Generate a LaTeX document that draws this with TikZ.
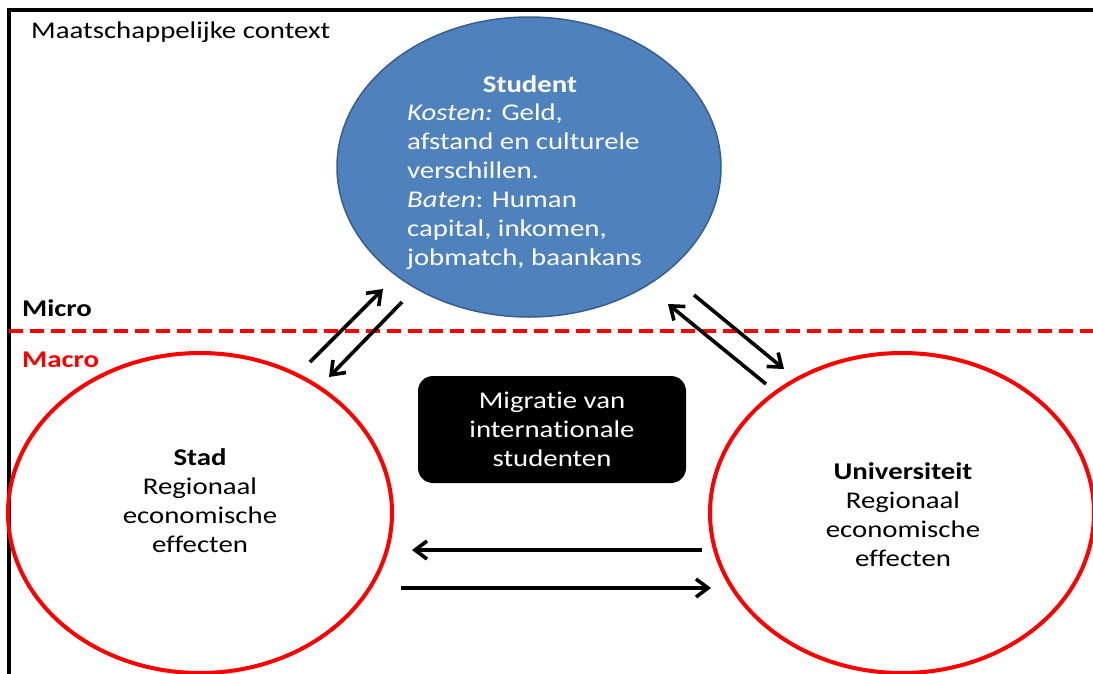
\documentclass[tikz,border=0pt]{standalone}
\usepackage{fontspec}
\setmainfont{Carlito}[FakeStretch=1.2, Ligatures=NoCommon]
\usetikzlibrary{shapes.geometric,arrows.meta}
\definecolor{studentblauw}{RGB}{79,129,189}
\definecolor{studentrand}{RGB}{56,93,138}
\tikzset{
  regio/.style={ellipse, draw=red, line width=4pt, minimum width=384pt, minimum height=320pt, inner sep=0pt},
  pijl/.style={line width=3.6pt, -{Straight Barb[length=12pt,width=18pt]}},
  tekst/.style={inner sep=0pt, align=center, font=\fontsize{24}{29}\selectfont},
}

\begin{document}
\begin{tikzpicture}[x=1pt,y=-1pt]
\clip (0,0) rectangle (1093,673);
% Outer border (context frame)
\draw[line width=3.5pt] (9,700) -- (9,10) -- (1110,10);
\node[tekst, anchor=base west] (context) at (31,38) {Maatschappelijke context};

% Micro / macro divide
\draw[red, line width=3.5pt, dash pattern=on 14pt off 7pt] (9,331) -- (1093,331);
\node[tekst, anchor=base west, font=\fontsize{24}{29}\selectfont\bfseries] (micro) at (22,316) {Micro};
\node[tekst, anchor=base west, text=red, font=\fontsize{24}{29}\selectfont\bfseries] (macro) at (22,367) {Macro};

% Student (micro level)
\node[ellipse, fill=studentblauw, draw=studentrand, line width=1.5pt, minimum width=384pt, minimum height=300pt, inner sep=0pt] (student) at (529,167) {};
\node[tekst, anchor=base, text=white, font=\fontsize{24}{29}\selectfont\bfseries] (studtitel) at (530,92) {Student};
\node[tekst, align=left, text=white] (studtekst) at (524.5,186.5) {\textit{Kosten:} Geld,\\afstand en culturele\\verschillen.\\\textit{Baten}: Human\\capital, inkomen,\\jobmatch, baankans};

% Stad and universiteit (macro level)
\node[regio] (stad) at (200,513) {};
\node[tekst] (stadtekst) at (200,501) {\textbf{Stad}\\Regionaal\\economische\\effecten};
\node[regio] (uni) at (902,513) {};
\node[tekst] (unitekst) at (903,515) {\textbf{Universiteit}\\Regionaal\\economische\\effecten};

% Migration box
\node[tekst, fill=black, text=white, rounded corners=15pt, minimum width=268pt, minimum height=107pt] (migratie) at (552,429.5) {Migratie van\\internationale\\studenten};

% Arrows
\coordinate (sa) at (310,362);
\coordinate (sb) at (383,289);
\coordinate (sc) at (402,302);
\coordinate (sd) at (329,377);
\coordinate (ua) at (766,384);
\coordinate (ub) at (668,304);
\coordinate (uc) at (694,295);
\coordinate (ud) at (784,369);
\coordinate (ha) at (702,550);
\coordinate (hb) at (412,550);
\coordinate (hc) at (401,588);
\coordinate (hd) at (711,588);
\draw[pijl] (sa) -- (sb);
\draw[pijl] (sc) -- (sd);
\draw[pijl] (ua) -- (ub);
\draw[pijl] (uc) -- (ud);
\draw[pijl] (ha) -- (hb);
\draw[pijl] (hc) -- (hd);

\end{tikzpicture}
\end{document}
